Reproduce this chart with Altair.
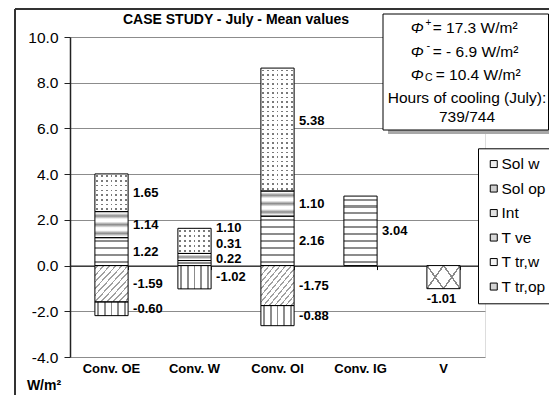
import math
import altair as alt
import pandas as pd

# ---------------- data ----------------
categories = ["Conv. OE", "Conv. W", "Conv. OI", "Conv. IG", "V"]
series_names = ["Sol w", "Sol op", "Int", "T ve", "T tr,w", "T tr,op"]
sol_w = [1.65, 1.10, 5.38, None, None]
sol_op = [1.14, 0.31, 1.10, None, None]
int_gains = [1.22, 0.22, 2.16, 3.04, None]
t_ve = [None, None, None, None, -1.01]
t_tr_w = [-0.60, -1.02, -0.88, None, None]
t_tr_op = [-1.59, None, -1.75, None, None]
stack_order = ["Int", "Sol op", "Sol w", "T tr,op", "T tr,w", "T ve"]
y_ticks = [-4, -2, 0, 2, 4, 6, 8, 10]

phi_plus = 17.3
phi_minus = -6.9
phi_c = 10.4
hours_cooling = 739
hours_month = 744
title_text = "CASE STUDY - July - Mean values"
unit_text = "W/m²"

# label nudges (data units) where Excel labels were moved apart
label_nudge = {("Conv. W", "Sol w"): 0.57, ("Conv. W", "Sol op"): 0.56,
               ("Conv. W", "Int"): 0.17, ("Conv. OI", "Sol w"): 0.37}

series_values = {"Sol w": sol_w, "Sol op": sol_op, "Int": int_gains,
                 "T ve": t_ve, "T tr,w": t_tr_w, "T tr,op": t_tr_op}
rows = []
for s, vals in series_values.items():
    for c, v in zip(categories, vals):
        if v is not None:
            rows.append({"cat": c, "series": s, "value": v,
                         "ord": stack_order.index(s),
                         "nudge": label_nudge.get((c, s), 0.0)})
df = pd.DataFrame(rows)

# ---------------- layout / style ----------------
W, H = 415, 320
YMIN, YMAX = -4, 10
PPU = H / (YMAX - YMIN)
BAR_W = W / len(categories) * 0.4
FONT = "Liberation Sans"
LINE = "#8c8c8c"
CLEAR = "rgba(255,255,255,0)"

yscale = alt.Scale(domain=[YMIN, YMAX], nice=False, zero=False)
yaxis = alt.Axis(values=y_ticks, title=None, grid=True, gridColor="#8c8c8c",
                 domainColor="#222", domainWidth=1.5, tickColor="#222", tickSize=6,
                 labelPadding=6, labelFontSize=15.5, labelColor="black", labelFont=FONT,
                 labelExpr="(datum.value < 0 ? '-' : '') + format(abs(datum.value), '.1f')")
xscale = alt.Scale(domain=categories, paddingInner=0.6, paddingOuter=0.3)
X_none = alt.X("cat:N", scale=xscale, sort=categories, axis=None)
Y = alt.Y("y0:Q", scale=yscale, axis=yaxis)
Y2 = alt.Y2("y1")


def stacked():
    return alt.Chart(df).transform_stack(
        stack="value", as_=["y0", "y1"], groupby=["cat"],
        sort=[alt.SortField("ord", order="ascending")])


def lin(stops, x1, y1, x2, y2):
    return {"gradient": "linear", "x1": x1, "y1": y1, "x2": x2, "y2": y2,
            "stops": [{"offset": round(min(max(o, 0), 1), 4), "color": c} for o, c in stops]}


def hard_lines(n, line, bg, frac):
    st = []
    for i in range(n):
        a, b = i / n, (i + 1) / n
        l0, l1 = (i + 0.5 - frac / 2) / n, (i + 0.5 + frac / 2) / n
        st += [(a, bg), (l0, bg), (l0, line), (l1, line), (l1, bg), (b, bg)]
    return st


def soft_bands(n, line, bg):
    st = []
    for i in range(n):
        a = i / n
        st += [(a, bg), (a + 0.15 / n, bg), (a + 0.5 / n, line), (a + 0.85 / n, bg)]
    st.append((1, bg))
    return st


def lines_at(ts, line, bg, w):
    st = [(0, bg)]
    for t in ts:
        st += [(t - w / 2, bg), (t - w / 2, line), (t + w / 2, line), (t + w / 2, bg)]
    st.append((1, bg))
    return st


def seg(cond, fill):
    return stacked().transform_filter(cond).mark_bar(fill=fill, strokeWidth=0).encode(
        x=X_none, y=Y, y2=Y2)


def cond_row(c, s):
    return f"datum.cat === '{c}' && datum.series === '{s}'"


def cond_series(s):
    return f"datum.series === '{s}'"


layers = []
one = alt.Data(values=[{"k": 0}])

# outer frame of the figure (top and left edges; the rest lies beyond the picture)
layers.append(alt.Chart(one).mark_rule(stroke="#333", strokeWidth=2).encode(
    x=alt.value(-55), x2=alt.value(620), y=alt.value(-28)))
layers.append(alt.Chart(one).mark_rule(stroke="#333", strokeWidth=2).encode(
    x=alt.value(-55), y=alt.value(-28), y2=alt.value(520)))

# base bars (legend + axes)
legend = alt.Legend(title=None, orient="none", legendX=408, legendY=111.3,
                    fillColor="white", strokeColor="black", padding=8,
                    labelFontSize=15.5, labelFont=FONT, labelColor="black",
                    symbolType="square", symbolSize=49, symbolStrokeColor="black",
                    symbolStrokeWidth=1, symbolOpacity=1, rowPadding=7.5, labelOffset=0)
legend_fill = ["#ededed", "#cfcfcf", "#e2e2e2", "#d9d9d9", "#f4f4f4", "#d4d4d4"]
layers.append(stacked().mark_bar(strokeWidth=0).encode(
    x=alt.X("cat:N", scale=xscale, sort=categories,
            axis=alt.Axis(title=None, orient="bottom", domain=False, ticks=False, tickSize=0,
                          grid=False, labelPadding=5, labelFontSize=13, labelFontWeight="bold",
                          labelFont=FONT, labelColor="black", labelAngle=0)),
    y=Y, y2=Y2,
    color=alt.Color("series:N", scale=alt.Scale(domain=series_names, range=legend_fill),
                    legend=legend)))

# Sol w : dots = grey base + white grids with transparent gaps
layers.append(seg(cond_series("Sol w"), "#7a7a7a"))
for c, v in zip(categories, sol_w):
    if v is None:
        continue
    n = max(1, round(abs(v) * PPU / 4.6))
    layers.append(seg(cond_row(c, "Sol w"), lin(hard_lines(n, CLEAR, "white", 0.34), 0, 0, 0, 1)))
nv = round(BAR_W / 4.6)
layers.append(seg(cond_series("Sol w"), lin(hard_lines(nv, CLEAR, "white", 0.34), 0, 0, 1, 0)))

# Sol op : wavy -> soft horizontal bands
for c, v in zip(categories, sol_op):
    if v is None:
        continue
    n = max(1, round(abs(v) * PPU / 8))
    layers.append(seg(cond_row(c, "Sol op"), lin(soft_bands(n, "#8a8a8a", "white"), 0, 0, 0, 1)))

# Int : horizontal lines
for c, v in zip(categories, int_gains):
    if v is None:
        continue
    n = max(1, round(abs(v) * PPU / 6.8))
    layers.append(seg(cond_row(c, "Int"), lin(hard_lines(n, LINE, "white", 0.3), 0, 0, 0, 1)))

# T tr,w : vertical lines
layers.append(seg(cond_series("T tr,w"), lin(hard_lines(5, LINE, "white", 0.3), 0, 0, 1, 0)))

# T tr,op : diagonal hatch
for c, v in zip(categories, t_tr_op):
    if v is None:
        continue
    h = abs(v) * PPU
    d = 2 / math.sqrt(1 / BAR_W ** 2 + 1 / h ** 2)
    n = max(1, round(d / 4.3))
    layers.append(seg(cond_row(c, "T tr,op"), lin(hard_lines(n, "#a0a0a0", "white", 0.28), 0, 0, 1, 1)))

# T ve : cross hatch (two diagonal families)
layers.append(seg(cond_series("T ve"), "white"))
layers.append(seg(cond_series("T ve"), lin(lines_at([0.4, 0.8], "#8a8a8a", CLEAR, 0.045), 0, 0, 1, 0.5)))
layers.append(seg(cond_series("T ve"), lin(lines_at([0.4, 0.8], "#8a8a8a", CLEAR, 0.045), 0, 1, 1, 0.5)))

# outlines
layers.append(stacked().mark_bar(fillOpacity=0, stroke="black", strokeWidth=1).encode(
    x=X_none, y=Y, y2=Y2))

# value labels
lab_expr = "(datum.value < 0 ? '-' : '') + format(abs(datum.value), '.2f')"
layers.append(stacked().transform_filter("datum.series !== 'T ve'").transform_calculate(
    label_y="(datum.y0 + datum.y1) / 2 + datum.nudge", label=lab_expr
).mark_text(align="left", baseline="middle", dx=5, fontSize=13, fontWeight="bold",
            font=FONT, color="black").encode(
    x=alt.X("cat:N", scale=xscale, sort=categories, axis=None, bandPosition=1),
    y=alt.Y("label_y:Q", scale=yscale, axis=yaxis), text="label:N"))
layers.append(stacked().transform_filter("datum.series === 'T ve'").transform_calculate(
    label=lab_expr
).mark_text(align="center", baseline="middle", dy=10, dx=-2, fontSize=13, fontWeight="bold",
            font=FONT, color="black").encode(
    x=X_none, y=alt.Y("y1:Q", scale=yscale, axis=yaxis), text="label:N"))

# x axis line at zero with band-boundary ticks
zero_off = -(H - YMAX * PPU)
layers.append(alt.Chart(df).mark_point(opacity=0).encode(
    x=alt.X("cat:N", scale=xscale, sort=categories,
            axis=alt.Axis(title=None, orient="bottom", offset=zero_off, labels=False,
                          ticks=True, tickBand="extent", tickSize=4, tickColor="black",
                          domainColor="black", domainWidth=1, grid=False))))

# chart title and unit label
layers.append(alt.Chart(one).mark_text(align="left", baseline="middle", fontSize=14,
                                       fontWeight="bold", font=FONT, color="black").encode(
    x=alt.value(53), y=alt.value(-17), text=alt.value(title_text)))
layers.append(alt.Chart(one).mark_text(align="center", baseline="middle", fontSize=14,
                                       fontWeight="bold", font=FONT, color="black").encode(
    x=alt.value(-26), y=alt.value(349), text=alt.value(unit_text)))

# info box
layers.append(alt.Chart(one).mark_rect(fill="#a8a8a8").encode(
    x=alt.value(318), x2=alt.value(490), y=alt.value(-19), y2=alt.value(97)))
layers.append(alt.Chart(one).mark_rect(fill="white", stroke="black", strokeWidth=1).encode(
    x=alt.value(313), x2=alt.value(478.5), y=alt.value(-23), y2=alt.value(93)))

info_texts = [
    # (text, x, y, size, style, align)
    ("Φ", 340.7, -9, 15.5, "italic", "left"),
    ("+", 355.5, -14, 10, "normal", "left"),
    (f"= {phi_plus} W/m²", 362.7, -9, 15.5, "normal", "left"),
    ("Φ", 340.7, 15, 15.5, "italic", "left"),
    ("-", 356.5, 9, 11, "normal", "left"),
    (f"= - {abs(phi_minus)} W/m²", 362.7, 15, 15.5, "normal", "left"),
    ("Φ", 340.7, 38, 15.5, "italic", "left"),
    ("C", 355, 41, 10.5, "normal", "left"),
    (f"= {phi_c} W/m²", 365.7, 38, 15.5, "normal", "left"),
    ("Hours of cooling (July):", 397, 61, 15.5, "normal", "center"),
    (f"{hours_cooling}/{hours_month}", 397, 80, 15.5, "normal", "center"),
]
for t, x, y, size, style, align in info_texts:
    layers.append(alt.Chart(one).mark_text(align=align, baseline="middle", fontSize=size,
                                           fontStyle=style, font=FONT, color="black").encode(
        x=alt.value(x), y=alt.value(y), text=alt.value(t)))

chart = alt.layer(*layers).resolve_axis(x="independent").properties(
    width=W, height=H,
    autosize=alt.AutoSizeParams(type="none"),
    padding={"left": 62, "top": 29, "right": 64, "bottom": 38},
).configure_view(stroke="#8c8c8c", strokeWidth=1).configure(font=FONT)

chart.save("out.html", embed_options={"renderer": "svg", "actions": False})
